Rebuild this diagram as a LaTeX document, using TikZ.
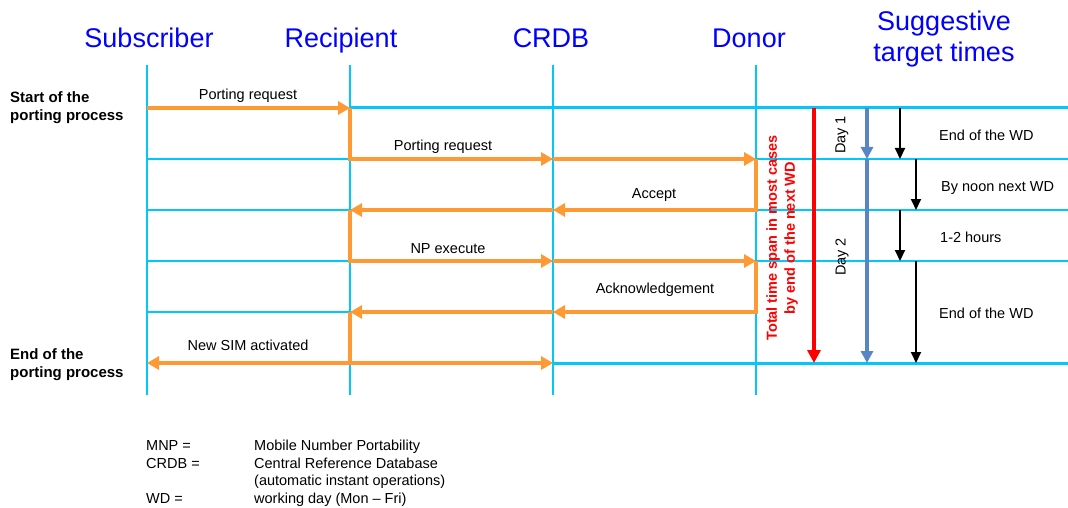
\documentclass[tikz,border=0pt]{standalone}
\usepackage{fontspec}
\setmainfont{Liberation Sans}
\usetikzlibrary{arrows.meta}
\definecolor{cyanline}{RGB}{0,200,250}
\definecolor{portorange}{RGB}{255,153,51}
\definecolor{hdrblue}{RGB}{0,0,255}
\definecolor{dayblue}{RGB}{88,134,196}
\tikzset{
  lifeline/.style={draw=cyanline, line width=1.2pt},
  gridline/.style={draw=cyanline, line width=1.4pt},
  boldline/.style={draw=cyanline, line width=3pt},
  msg/.style={draw=portorange, line width=4pt, line join=miter, -{Triangle[length=12pt,width=13pt]}},
  msgplain/.style={draw=portorange, line width=4pt, line join=miter},
  lbl/.style={font=\fontsize{14.5}{17}\selectfont, inner sep=0pt},
  hdr/.style={font=\fontsize{27}{31}\selectfont, text=hdrblue, inner sep=0pt, anchor=base},
  side/.style={font=\bfseries\fontsize{15}{18}\selectfont, inner sep=0pt, align=left, anchor=west},
  tarr/.style={draw=black, line width=2pt, -{Triangle[length=11pt,width=10pt]}},
  legend/.style={font=\fontsize{14.5}{17.5}\selectfont, inner sep=0pt, anchor=base west},
}
\begin{document}
\begin{tikzpicture}[x=1pt,y=-1pt]
\useasboundingbox (0,0) rectangle (1068,508);
% lifeline x positions
\foreach \n/\x in {S/147,R/350,C/553,D/756}{
  \coordinate (\n top) at (\x,65);
  \coordinate (\n bot) at (\x,395);
  \foreach \r/\y in {1/108,2/159,3/210,4/261,5/312,6/363}{
    \coordinate (\n\r) at (\x,\y);
  }
}
\foreach \r/\y in {1/108,2/159,3/210,4/261,5/312,6/363}{
  \coordinate (E\r) at (1068,\y);
}
% headers
\node[hdr] (hS) at (149,48) {Subscriber};
\node[hdr] (hR) at (341,48) {Recipient};
\node[hdr] (hC) at (551,48) {CRDB};
\node[hdr] (hD) at (749,48) {Donor};
\node[hdr] (hT1) at (944,31) {Suggestive};
\node[hdr] (hT2) at (944,62) {target times};
% lifelines
\foreach \n in {S,R,C,D}{ \draw[lifeline] (\n top) -- (\n bot); }
% grid lines
\foreach \r in {2,3,4}{ \draw[gridline] (S\r) -- (E\r); }
\draw[gridline] (S5) -- (D5);
\draw[boldline] (R1) -- (E1);
\draw[boldline] (C6) -- (E6);
% side labels
\node[side] (start) at (10,108) {Start of the\\porting process};
\node[side] (end) at (10,365) {End of the\\porting process};
% messages
\draw[msg] (S1) -- (R1);
\node[lbl] (m1) at (248,96) {Porting request};
\draw[msg] (R1) -- (R2) -- (C2);
\draw[msg] (C2) -- (D2);
\node[lbl] (m2) at (443,147) {Porting request};
\draw[msg] (D2) -- (D3) -- (C3);
\draw[msg] (C3) -- (R3);
\node[lbl] (m3) at (654,195) {Accept};
\draw[msg] (R3) -- (R4) -- (C4);
\draw[msg] (C4) -- (D4);
\node[lbl] (m4) at (448,249) {NP execute};
\draw[msg] (D4) -- (D5) -- (C5);
\draw[msg] (C5) -- (R5);
\node[lbl] (m5) at (655,290) {Acknowledgement};
\draw[msgplain] (R5) -- (R6);
\draw[msg] (R6) -- (S6);
\draw[msg] (R6) -- (C6);
\node[lbl] (m6) at (248,345) {New SIM activated};
% total time span
\coordinate (redtop) at (814,108);
\coordinate (redbot) at (814,363);
\draw[draw=red, line width=4pt, -{Triangle[length=13pt,width=13pt]}] (redtop) -- (redbot);
\node[lbl, font=\bfseries\fontsize{14.5}{18}\selectfont, text=red, rotate=90, align=center] (total) at (782,238) {Total time span in most cases\\by end of the next WD};
% day arrow
\coordinate (bluetop) at (867,108);
\coordinate (bluemid) at (867,159);
\coordinate (bluebot) at (867,363);
\draw[draw=dayblue, line width=4pt, -{Triangle[length=12pt,width=12pt]}] (bluetop) -- (bluemid);
\draw[draw=dayblue, line width=4pt, -{Triangle[length=12pt,width=12pt]}] (bluemid) -- (bluebot);
\node[lbl, rotate=90] (day1) at (842,135) {Day 1};
\node[lbl, rotate=90] (day2) at (842,257) {Day 2};
% target time arrows
\coordinate (ta1) at (900,108); \coordinate (tb1) at (900,159);
\coordinate (ta2) at (916,159); \coordinate (tb2) at (916,210);
\coordinate (ta3) at (900,210); \coordinate (tb3) at (900,261);
\coordinate (ta4) at (916,261); \coordinate (tb4) at (916,363);
\foreach \i in {1,2,3,4}{ \draw[tarr] (ta\i) -- (tb\i); }
\node[lbl, anchor=west] (t1) at (939,135) {End of the WD};
\node[lbl, anchor=west] (t2) at (941,188) {By noon next WD};
\node[lbl, anchor=west] (t3) at (940,237) {1-2 hours};
\node[lbl, anchor=west] (t4) at (939,313) {End of the WD};
% legend
\node[legend] (l1) at (146,450) {MNP =};
\node[legend] (l2) at (146,468) {CRDB =};
\node[legend] (l3) at (146,503) {WD =};
\node[legend] (r1) at (254,450) {Mobile Number Portability};
\node[legend] (r2) at (254,468) {Central Reference Database};
\node[legend] (r3) at (254,485) {(automatic instant operations)};
\node[legend] (r4) at (254,503) {working day (Mon -- Fri)};
\end{tikzpicture}
\end{document}
